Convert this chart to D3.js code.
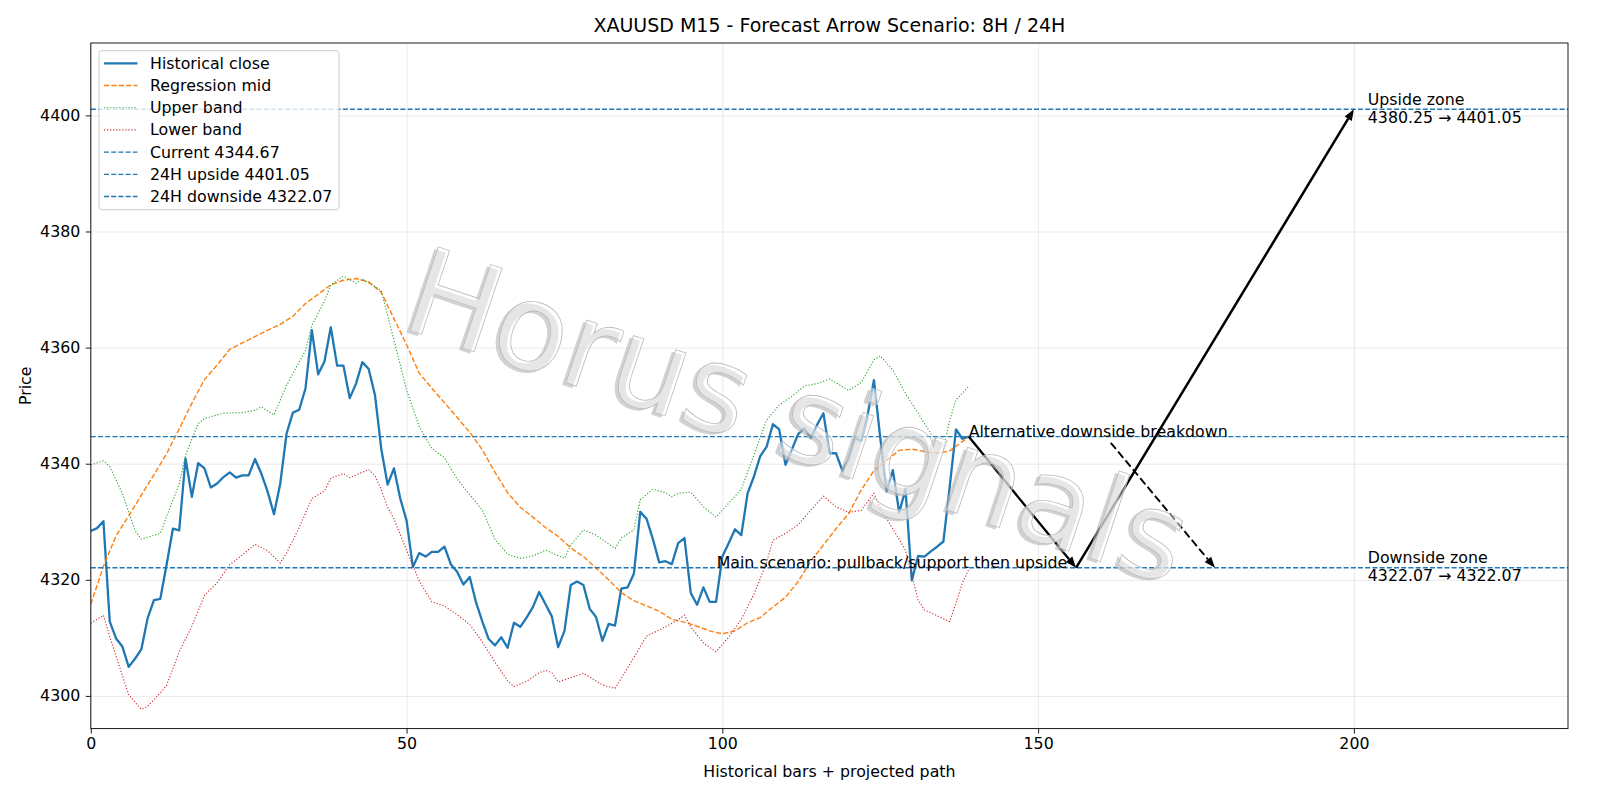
<!DOCTYPE html>
<html>
<head>
<meta charset="utf-8">
<script src="https://cdn.jsdelivr.net/npm/d3@7"></script>
<style>
  body { margin: 0; background: #fff; }
  svg text { font-family: "DejaVu Sans", sans-serif; }
</style>
</head>
<body>
<div id="chart"></div>
<script>
// historical close, one value per bar (x = 0..139)
var closeVals = [
  4328.4, 4328.9, 4330.1, 4312.8, 4309.9, 4308.5, 4305.0, 4306.4, 4308.0, 4313.4,
  4316.5, 4316.7, 4322.6, 4328.8, 4328.5, 4340.9, 4334.3, 4340.1, 4339.2, 4335.9,
  4336.6, 4337.7, 4338.5, 4337.6, 4338.0, 4338.0, 4340.8, 4338.3, 4335.2, 4331.3,
  4336.6, 4345.2, 4348.8, 4349.3, 4353.0, 4363.0, 4355.4, 4357.6, 4363.5, 4356.9,
  4356.9, 4351.3, 4353.8, 4357.5, 4356.3, 4351.8, 4342.5, 4336.4, 4339.2, 4334.0,
  4330.2, 4322.2, 4324.6, 4324.0, 4324.8, 4324.8, 4325.7, 4322.7, 4321.4, 4319.2,
  4320.5, 4316.1, 4312.8, 4309.8, 4308.7, 4310.1, 4308.3, 4312.6, 4311.9, 4313.5,
  4315.3, 4317.9, 4315.8, 4313.7, 4308.4, 4311.2, 4319.1, 4319.7, 4319.1, 4315.0,
  4313.6, 4309.5, 4312.4, 4312.1, 4318.5, 4318.7, 4321.1, 4331.7, 4330.5, 4327.0,
  4323.0, 4323.2, 4322.7, 4326.3, 4327.2, 4317.7, 4315.7, 4318.7, 4316.2, 4316.2,
  4324.0, 4326.3, 4328.7, 4327.7, 4334.9, 4337.8, 4341.3, 4342.9, 4346.8, 4345.9,
  4339.8, 4342.4, 4345.1, 4346.1, 4344.4, 4346.7, 4348.7, 4341.8, 4341.8, 4338.8,
  4340.8, 4344.4, 4343.9, 4348.4, 4354.4, 4344.5, 4335.2, 4338.9, 4331.6, 4335.6,
  4319.9, 4324.1, 4324.0, 4324.9, 4325.7, 4326.6, 4336.0, 4345.9, 4344.3, 4344.67
];

// regression mid / bands, read at the bars listed in the x arrays
var midX = [0, 2, 4, 6, 8, 10, 12, 14, 16, 18, 20, 22, 24, 26, 28, 30, 32, 34, 36, 38,
  40, 42, 44, 46, 48, 50, 52, 54, 56, 58, 60, 62, 64, 66, 68, 70, 72, 74, 76, 78,
  80, 82, 84, 86, 88, 90, 92, 94, 96, 98, 100, 102, 104, 106, 108, 110, 112, 114, 116, 118,
  120, 122, 124, 126, 128, 130, 132, 134, 136, 138, 139];
var midVals = [4315.8, 4322.3, 4327.6, 4331.0, 4334.6, 4338.1, 4341.7, 4346.0, 4350.4, 4354.5,
  4357.0, 4359.7, 4360.8, 4361.9, 4363.0, 4364.0, 4365.4, 4367.6, 4369.2, 4370.8,
  4371.6, 4371.9, 4371.3, 4369.5, 4365.0, 4360.5, 4355.6, 4353.0, 4350.5, 4348.0,
  4345.4, 4342.4, 4338.5, 4335.0, 4332.5, 4330.8, 4329.0, 4327.5, 4325.5, 4324.0,
  4322.0, 4320.0, 4317.8, 4316.4, 4315.5, 4314.6, 4313.2, 4312.7, 4312.0, 4311.2,
  4310.7, 4311.2, 4312.6, 4313.5, 4315.3, 4317.0, 4319.7, 4323.2, 4326.0, 4328.8,
  4331.4, 4335.5, 4338.8, 4340.6, 4342.3, 4342.5, 4342.1, 4341.8, 4342.2, 4343.8, 4344.6];

var upperX = [0, 2, 3, 5, 7, 8, 11, 12, 14, 15, 17, 18, 21, 24, 26, 27, 29, 31, 34, 35,
  37, 38, 40, 42, 43, 45, 46, 48, 50, 52, 54, 56, 58, 59, 62, 64, 66, 68, 70, 72,
  75, 76, 78, 80, 83, 84, 86, 87, 89, 91, 92, 93, 95, 97, 99, 101, 103, 105, 107, 109,
  111, 113, 115, 117, 120, 122, 124, 125, 127, 129, 131, 133, 135, 136, 137, 139];
var upperVals = [4339.8, 4340.5, 4339.5, 4334.9, 4328.5, 4327.0, 4328.0, 4330.9, 4336.5, 4341.5,
  4346.9, 4347.8, 4348.7, 4348.8, 4349.2, 4349.8, 4348.4, 4353.5, 4359.5, 4363.8,
  4368.0, 4370.8, 4372.3, 4371.1, 4371.8, 4370.5, 4369.8, 4361.3, 4352.7, 4346.4,
  4342.6, 4341.0, 4337.4, 4336.0, 4332.0, 4327.0, 4324.4, 4323.7, 4324.1, 4325.1,
  4323.7, 4326.0, 4328.6, 4327.7, 4325.4, 4327.2, 4328.6, 4333.8, 4335.6, 4335.0,
  4334.3, 4334.9, 4335.1, 4332.6, 4330.8, 4333.2, 4335.6, 4341.5, 4347.5, 4350.1,
  4351.6, 4353.4, 4353.8, 4354.6, 4352.6, 4354.0, 4357.9, 4358.6, 4356.1, 4352.1,
  4348.7, 4345.2, 4342.7, 4347.5, 4351.0, 4353.3];

var lowerX = [0, 2, 3, 5, 6, 8, 9, 11, 12, 14, 16, 18, 20, 22, 24, 26, 28, 30, 31, 33,
  35, 37, 38, 40, 41, 44, 45, 46, 47, 48, 50, 52, 54, 56, 58, 60, 62, 64, 66, 67,
  69, 71, 72, 73, 74, 78, 81, 83, 85, 87, 88, 91, 93, 94, 95, 97, 99, 101, 103, 105,
  107, 108, 110, 112, 114, 116, 118, 120, 122, 124, 125, 128, 129, 131, 132, 134, 136, 137, 138, 139];
var lowerVals = [4312.5, 4313.9, 4310.2, 4303.5, 4300.2, 4297.7, 4298.2, 4300.5, 4301.8, 4307.6,
  4312.0, 4317.3, 4319.5, 4322.6, 4324.3, 4326.1, 4325.0, 4322.9, 4324.6, 4329.0,
  4334.0, 4335.3, 4337.5, 4338.3, 4337.6, 4339.0, 4337.9, 4335.5, 4332.5, 4330.5,
  4325.1, 4319.8, 4316.2, 4315.5, 4314.0, 4312.3, 4309.3, 4305.8, 4302.6, 4301.6,
  4302.5, 4304.0, 4304.4, 4304.0, 4302.4, 4303.9, 4301.9, 4301.3, 4304.8, 4308.5,
  4310.3, 4311.9, 4313.1, 4313.9, 4311.9, 4309.1, 4307.6, 4310.1, 4313.2, 4317.5,
  4323.0, 4326.8, 4328.0, 4329.5, 4332.0, 4334.4, 4332.6, 4331.6, 4332.0, 4334.9,
  4332.3, 4327.0, 4325.1, 4316.5, 4314.8, 4313.8, 4312.8, 4316.0, 4319.4, 4321.8];

// levels
var currentPrice = 4344.67,
    upside24 = 4401.05,
    downside24 = 4322.07,
    upsideFrom = 4380.25;

// scenario path: [bar, price]
var mainPath = [[139, 4344.67], [156, 4322.07], [200, 4401.05]];
var altPath = [[161.5, 4343.6], [178, 4322.07]];

var xTicks = [0, 50, 100, 150, 200];
var yTicks = [4300, 4320, 4340, 4360, 4380, 4400];

var legendItems = [
  {label: "Historical close", color: "#1f77b4", width: 2.3, dash: null},
  {label: "Regression mid", color: "#ff7f0e", width: 1.4, dash: "5.2,2.2"},
  {label: "Upper band", color: "#2ca02c", width: 1.15, dash: "1.15,1.9"},
  {label: "Lower band", color: "#d62728", width: 1.15, dash: "1.15,1.9"},
  {label: "Current " + currentPrice.toFixed(2), color: "#1f77b4", width: 1.35, dash: "5,2.2"},
  {label: "24H upside " + upside24.toFixed(2), color: "#1f77b4", width: 1.35, dash: "5,2.2"},
  {label: "24H downside " + downside24.toFixed(2), color: "#1f77b4", width: 1.35, dash: "5,2.2"}
];

var FS = 15.8;

var W = 1600, H = 800,
    margin = {top: 43, right: 32, bottom: 71.4, left: 90.8},
    width = W - margin.left - margin.right,
    height = H - margin.top - margin.bottom;

var svg = d3.select("#chart")
  .append("svg")
    .attr("width", W)
    .attr("height", H);

var g = svg.append("g")
  .attr("transform", "translate(" + margin.left + "," + margin.top + ")");

var xScale = d3.scaleLinear()
  .domain([0, 233.9])
  .range([0, width]);

var yScale = d3.scaleLinear()
  .domain([4294.37, 4412.47])
  .range([height, 0]);

// clip so the lines stay inside the axes
g.append("clipPath").attr("id", "clip")
  .append("rect").attr("width", width).attr("height", height);

// grid
g.append("g")
  .call(d3.axisLeft(yScale).tickValues(yTicks).tickSize(-width).tickFormat(""))
  .call(g => g.select(".domain").remove())
  .call(g => g.selectAll("line").attr("stroke", "#b0b0b0").attr("stroke-opacity", 0.3).attr("stroke-width", 0.9));

g.append("g")
  .attr("transform", "translate(0," + height + ")")
  .call(d3.axisBottom(xScale).tickValues(xTicks).tickSize(-height).tickFormat(""))
  .call(g => g.select(".domain").remove())
  .call(g => g.selectAll("line").attr("stroke", "#b0b0b0").attr("stroke-opacity", 0.3).attr("stroke-width", 0.9));

var plot = g.append("g").attr("clip-path", "url(#clip)");

function seriesLine(xs, vals) {
  return d3.line()
    .x(function(d, i) { return xScale(xs[i]); })
    .y(function(d) { return yScale(d); })(vals);
}

var barIdx = closeVals.map(function(d, i) { return i; });

plot.append("path")
  .attr("d", seriesLine(barIdx, closeVals))
  .attr("fill", "none")
  .attr("stroke", "#1f77b4")
  .attr("stroke-width", 2.3)
  .attr("stroke-linejoin", "round");

plot.append("path")
  .attr("d", seriesLine(midX, midVals))
  .attr("fill", "none")
  .attr("stroke", "#ff7f0e")
  .attr("stroke-width", 1.4)
  .style("stroke-dasharray", "5.2,2.2");

plot.append("path")
  .attr("d", seriesLine(upperX, upperVals))
  .attr("fill", "none")
  .attr("stroke", "#2ca02c")
  .attr("stroke-width", 1.15)
  .style("stroke-dasharray", "1.15,1.9");

plot.append("path")
  .attr("d", seriesLine(lowerX, lowerVals))
  .attr("fill", "none")
  .attr("stroke", "#d62728")
  .attr("stroke-width", 1.15)
  .style("stroke-dasharray", "1.15,1.9");

// horizontal levels
[currentPrice, upside24, downside24].forEach(function(v) {
  plot.append("line")
    .attr("x1", 0)
    .attr("x2", width)
    .attr("y1", yScale(v))
    .attr("y2", yScale(v))
    .style("stroke", "#1f77b4")
    .style("stroke-width", 1.35)
    .style("stroke-dasharray", "5,2.2");
});

// arrows, filled head
function arrow(p0, p1, dashed, lw) {
  var x0 = xScale(p0[0]), y0 = yScale(p0[1]),
      x1 = xScale(p1[0]), y1 = yScale(p1[1]),
      ang = Math.atan2(y1 - y0, x1 - x0),
      len = 11, half = 4.2,
      bx = x1 - len * Math.cos(ang), by = y1 - len * Math.sin(ang);
  g.append("line")
    .attr("x1", x0).attr("y1", y0)
    .attr("x2", bx).attr("y2", by)
    .style("stroke", "#000")
    .style("stroke-width", lw)
    .style("stroke-dasharray", dashed ? "8,3.5" : null);
  g.append("path")
    .attr("d", "M" + x1 + "," + y1 +
      "L" + (bx + half * Math.sin(ang)) + "," + (by - half * Math.cos(ang)) +
      "L" + (bx - half * Math.sin(ang)) + "," + (by + half * Math.cos(ang)) + "Z")
    .attr("fill", "#000");
}

arrow(mainPath[0], mainPath[1], false, 2.3);
arrow(mainPath[1], mainPath[2], false, 2.5);
arrow(altPath[0], altPath[1], true, 1.9);

// watermark, light letters with a soft grey shadow
var wm = g.append("g")
  .attr("transform", "translate(" + (785 - margin.left) + "," + (456 - margin.top) + ") rotate(18.5)");
wm.append("text")
  .attr("x", -3).attr("y", 3)
  .attr("text-anchor", "middle")
  .attr("font-size", 121)
  .attr("fill", "#b4b4b4")
  .attr("fill-opacity", 0.6)
  .text("Horus signals");
wm.append("text")
  .attr("text-anchor", "middle")
  .attr("font-size", 121)
  .attr("fill", "#fff")
  .attr("fill-opacity", 0.45)
  .attr("stroke", "#bcbcbc")
  .attr("stroke-width", 0.8)
  .text("Horus signals");

// annotation texts
g.append("text")
  .attr("x", xScale(139))
  .attr("y", yScale(currentPrice))
  .attr("font-size", FS)
  .text("Alternative downside breakdown");

g.append("text")
  .attr("x", xScale(99.1))
  .attr("y", yScale(downside24))
  .attr("font-size", FS)
  .text("Main scenario: pullback/support then upside");

var upTxt = g.append("text")
  .attr("font-size", FS)
  .attr("x", xScale(202.2));
upTxt.append("tspan").attr("x", xScale(202.2)).attr("y", yScale(upside24) - 4).text("Upside zone");
upTxt.append("tspan").attr("x", xScale(202.2)).attr("y", yScale(upside24) + 13.5)
  .text(upsideFrom.toFixed(2) + " \u2192 " + upside24.toFixed(2));

var dnTxt = g.append("text")
  .attr("font-size", FS)
  .attr("x", xScale(202.2));
dnTxt.append("tspan").attr("x", xScale(202.2)).attr("y", yScale(downside24) - 4.5).text("Downside zone");
dnTxt.append("tspan").attr("x", xScale(202.2)).attr("y", yScale(downside24) + 13)
  .text(downside24.toFixed(2) + " \u2192 " + downside24.toFixed(2));

// axes
g.append("g")
  .attr("transform", "translate(0," + height + ")")
  .call(d3.axisBottom(xScale).tickValues(xTicks).tickSize(5).tickPadding(4.5).tickFormat(d3.format("d")))
  .call(g => g.select(".domain").remove())
  .call(g => g.selectAll("text").attr("font-size", FS).attr("fill", "#000").style("font-family", "DejaVu Sans"))
  .call(g => g.selectAll("line").attr("stroke-width", 0.9));

g.append("g")
  .call(d3.axisLeft(yScale).tickValues(yTicks).tickSize(5).tickPadding(5.5).tickFormat(d3.format("d")))
  .call(g => g.select(".domain").remove())
  .call(g => g.selectAll("text").attr("font-size", FS).attr("fill", "#000").style("font-family", "DejaVu Sans"))
  .call(g => g.selectAll("line").attr("stroke-width", 0.9));

g.append("rect")
  .attr("width", width)
  .attr("height", height)
  .attr("fill", "none")
  .attr("stroke", "#000")
  .attr("stroke-width", 0.9);

// legend
var lg = g.append("g").attr("transform", "translate(" + (99 - margin.left) + "," + (50.7 - margin.top) + ")");
lg.append("rect")
  .attr("width", 240)
  .attr("height", 159)
  .attr("rx", 3)
  .attr("fill", "#fff")
  .attr("fill-opacity", 0.8)
  .attr("stroke", "#cccccc")
  .attr("stroke-width", 1);

legendItems.forEach(function(d, i) {
  var yy = 12.6 + i * 22.2;
  lg.append("line")
    .attr("x1", 5).attr("x2", 38.5)
    .attr("y1", yy).attr("y2", yy)
    .style("stroke", d.color)
    .style("stroke-width", d.width)
    .style("stroke-dasharray", d.dash);
  lg.append("text")
    .attr("x", 51)
    .attr("y", yy + 5.6)
    .attr("font-size", FS)
    .text(d.label);
});

// titles
svg.append("text")
  .attr("x", margin.left + width / 2)
  .attr("y", 32)
  .attr("text-anchor", "middle")
  .attr("font-size", 19)
  .text("XAUUSD M15 - Forecast Arrow Scenario: 8H / 24H");

svg.append("text")
  .attr("x", margin.left + width / 2)
  .attr("y", 777)
  .attr("text-anchor", "middle")
  .attr("font-size", FS)
  .text("Historical bars + projected path");

svg.append("text")
  .attr("transform", "translate(31," + (margin.top + height / 2) + ") rotate(-90)")
  .attr("text-anchor", "middle")
  .attr("font-size", FS)
  .text("Price");
</script>
</body>
</html>
